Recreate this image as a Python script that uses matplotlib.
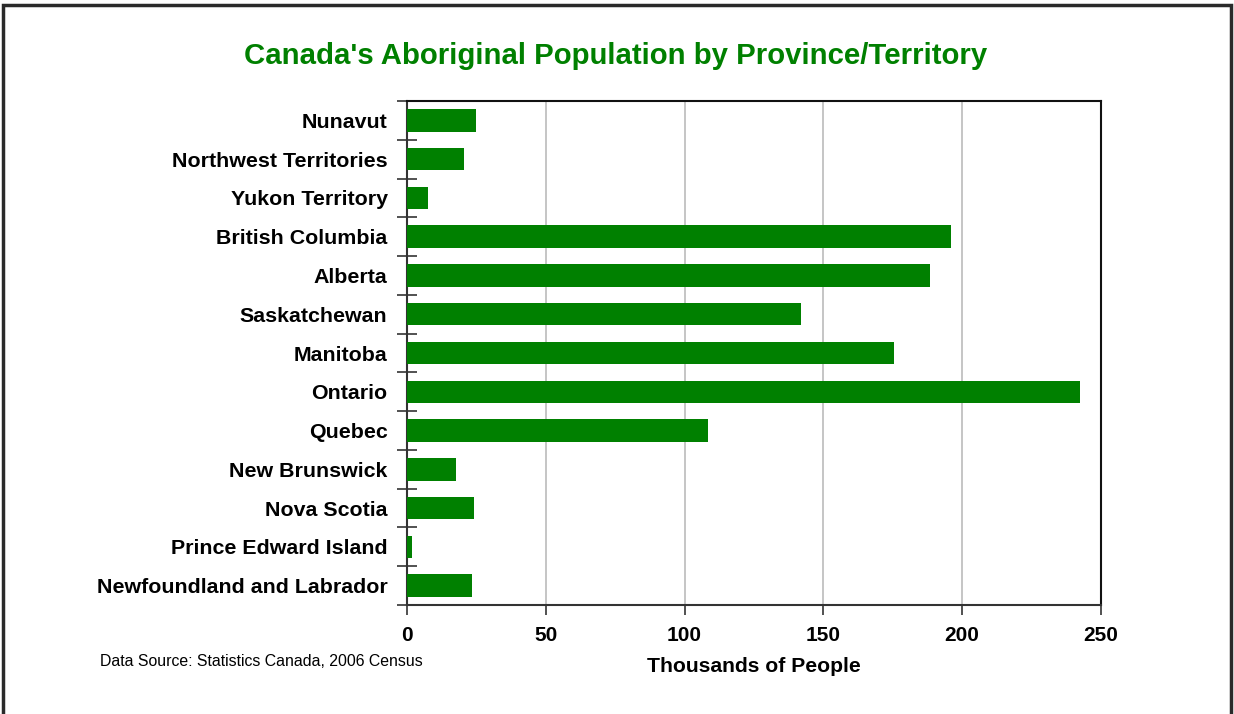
import numpy as np
import matplotlib.pyplot as plt
from matplotlib.patches import Rectangle

regions = ['Nunavut', 'Northwest Territories', 'Yukon Territory', 'British Columbia',
           'Alberta', 'Saskatchewan', 'Manitoba', 'Ontario', 'Quebec',
           'New Brunswick', 'Nova Scotia', 'Prince Edward Island',
           'Newfoundland and Labrador']
# thousands of people, 2006 census
population = [24.9, 20.6, 7.6, 196.1, 188.4, 141.9, 175.4, 242.5, 108.4,
              17.7, 24.2, 1.7, 23.5]
x_ticks = [0, 50, 100, 150, 200, 250]

plt.rcParams['font.family'] = ['Liberation Sans', 'DejaVu Sans']
green = '#008000'

fig = plt.figure(figsize=(12.34, 7.14), dpi=100)
ax = fig.add_axes([0.3298, 0.1527, 0.5624, 0.7058])

pos = np.arange(len(regions))
ax.barh(pos, population, height=0.58, color=green, zorder=3)

ax.set_ylim(len(regions) - 0.5, -0.5)
ax.set_xlim(0, 250)
ax.set_yticks(pos)
ax.set_yticklabels(regions, fontsize=15.4, fontweight='bold')
ax.set_yticks(np.arange(len(regions) + 1) - 0.5, minor=True)
ax.tick_params(axis='y', which='major', length=0, pad=14)
ax.tick_params(axis='y', which='minor', direction='inout', length=14,
               width=1.2, color='#333333')

ax.set_xticks(x_ticks)
ax.set_xticklabels([str(v) for v in x_ticks], fontsize=15, fontweight='bold')
ax.tick_params(axis='x', direction='out', length=7, width=1.2,
               color='#333333', pad=8)
ax.grid(axis='x', color='#c0c0c0', linewidth=1.3, zorder=0)

for s in ax.spines.values():
    s.set_color('#333333')
    s.set_linewidth(1.5)
ax.spines['top'].set_color('#111111')
ax.spines['right'].set_color('#111111')

ax.set_xlabel('Thousands of People', fontsize=15.2, fontweight='bold', labelpad=9)

fig.text(0.499, 0.921, "Canada's Aboriginal Population by Province/Territory",
         ha='center', va='center', fontsize=21.2, fontweight='bold', color=green)
fig.text(0.081, 0.073, 'Data Source: Statistics Canada, 2006 Census',
         ha='left', va='center', fontsize=11.4)

# outer frame around the figure
fig.patches.append(Rectangle((0.0025, -0.01), 0.995, 1.003,
                             transform=fig.transFigure, fill=False,
                             edgecolor='#2a2a2a', linewidth=2.5))

fig.savefig('out.png', dpi=100)
